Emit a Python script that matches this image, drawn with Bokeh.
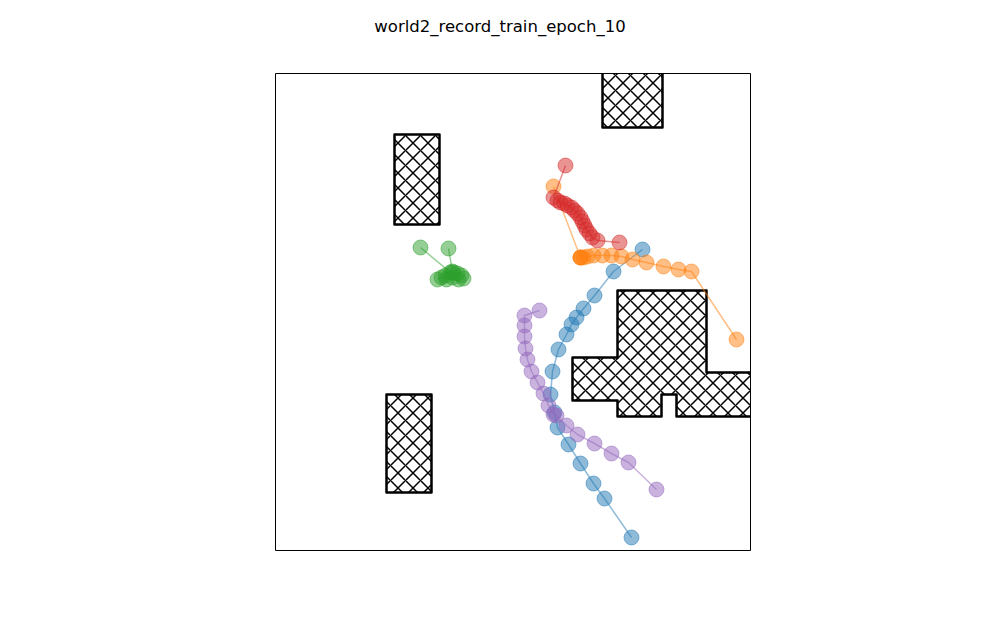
from bokeh.plotting import figure
from bokeh.models import Range1d
from bokeh.core.properties import value
from bokeh.embed import file_html
from bokeh.resources import INLINE

TITLE = "world2_record_train_epoch_10"

# world extent (units)
X_MAX = 475
Y_MAX = 477

# obstacles (polygons; some extend past the world edge and are clipped)
obs_big_x = [342, 431, 431, 520, 520, 401, 401, 386, 386, 342, 342, 297, 297, 342]
obs_big_y = [260, 260, 178, 178, 134, 134, 156, 156, 134, 134, 150, 150, 193, 193]
obs_top_x = [327, 387, 387, 327]
obs_top_y = [423, 423, 520, 520]
obs_left_top_x = [119, 164, 164, 119]
obs_left_top_y = [326, 326, 416, 416]
obs_left_bot_x = [111, 156, 156, 111]
obs_left_bot_y = [58, 58, 156, 156]

# trajectories
blue_x = [367, 338, 319, 308, 301, 296, 291, 283, 277, 275, 279, 282, 293, 305, 318, 329, 356]
blue_y = [301, 279, 255, 242, 233, 226, 216, 201, 179, 156, 138, 123, 106, 87, 67, 52, 13]

orange_x = [278, 305, 305, 305, 308, 312, 318, 327, 336, 346, 357, 371, 388, 403, 416, 461]
orange_y = [364, 293, 293, 293, 293, 294, 295, 295, 295, 294, 291, 288, 284, 281, 279, 211]

green_x = [145, 175, 171, 166, 162, 170, 178, 182, 186, 188, 183, 177, 177, 173]
green_y = [303, 278, 271, 273, 271, 275, 278, 277, 275, 272, 271, 273, 279, 302]

red_x = [290, 278, 282, 285, 289, 292, 296, 299, 302, 305, 307, 309, 311, 314, 317, 322, 344]
red_y = [385, 353, 350, 348, 347, 345, 343, 340, 337, 333, 329, 325, 321, 317, 313, 310, 308]

purple_x = [264, 249, 249, 249, 250, 252, 256, 262, 268, 273, 278, 281, 291, 302, 319, 336, 353, 381]
purple_y = [240, 235, 225, 214, 202, 191, 179, 168, 157, 145, 136, 135, 125, 116, 107, 97, 88, 61]

series = [
    (blue_x, blue_y, "#1f77b4"),
    (orange_x, orange_y, "#ff7f0e"),
    (green_x, green_y, "#2ca02c"),
    (red_x, red_y, "#d62728"),
    (purple_x, purple_y, "#9467bd"),
]

# canvas margins around the world box (layout)
ML, MR, MT, MB = 275, 250, 73, 68

p = figure(width=1000, height=618, output_backend="svg", toolbar_location=None,
           x_range=Range1d(-ML, X_MAX + MR), y_range=Range1d(-MB, Y_MAX + MT),
           frame_width=1000, frame_height=618,
           min_border_left=0, min_border_right=0,
           min_border_top=0, min_border_bottom=0)
p.axis.visible = False
p.grid.visible = False
p.outline_line_color = None
p.background_fill_color = "white"
p.border_fill_color = "white"

p.patches([obs_big_x, obs_top_x, obs_left_top_x, obs_left_bot_x],
          [obs_big_y, obs_top_y, obs_left_top_y, obs_left_bot_y],
          fill_color="white", line_color="black", line_width=2.5,
          line_join="round",
          hatch_pattern="x", hatch_color="black", hatch_weight=1.5, hatch_scale=15)

for xs, ys, c in series:
    p.line(xs, ys, line_color=c, line_width=1.5, line_alpha=0.5)
    p.scatter(xs, ys, size=15, fill_color=c, fill_alpha=0.5,
              line_color=c, line_alpha=0.5, line_width=1)

# white margins (clip anything outside the world box)
p.quad(left=[-ML, X_MAX, 0, 0], right=[0, X_MAX + MR, X_MAX, X_MAX],
       bottom=[-MB, -MB, -MB, Y_MAX], top=[Y_MAX + MT, Y_MAX + MT, 0, Y_MAX + MT],
       fill_color="white", line_color=None)

# world border
p.quad(left=[0], right=[X_MAX], bottom=[0], top=[Y_MAX],
       fill_color=None, line_color="black", line_width=1)

# title
p.text(x=[(X_MAX + MR - ML) / 2 - 0.5], y=[Y_MAX + MT - 26], text=[TITLE],
       text_font=value("DejaVu Sans"), text_font_size="16.5px",
       text_align="center", text_baseline="alphabetic", text_color="black")

open("out.html", "w").write(file_html(p, INLINE))
